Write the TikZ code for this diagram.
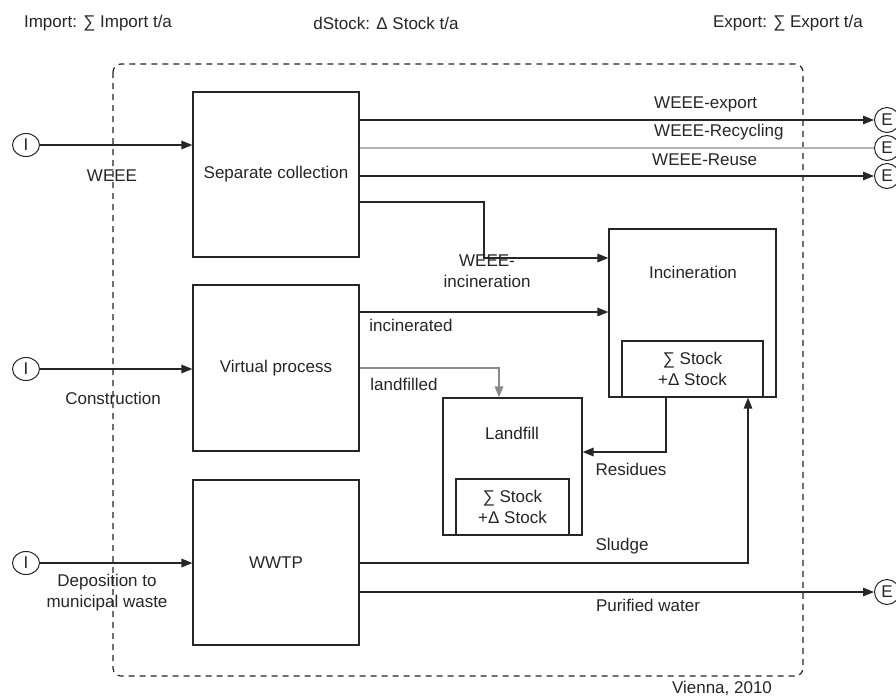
\documentclass[tikz,border=0pt]{standalone}
\usepackage{fontspec}
\setmainfont{Liberation Sans}
\usetikzlibrary{arrows.meta,shapes.geometric}
\definecolor{ink}{HTML}{262626}
\definecolor{lightflow}{HTML}{B4B4B4}
\definecolor{midflow}{HTML}{8A8A8A}
\begin{document}
\begin{tikzpicture}[x=1pt,y=-1pt,
  every node/.style={font=\fontsize{17}{21}\selectfont, text=ink},
  process/.style={draw=ink, line width=1.2pt, rectangle, inner sep=0pt},
  stockbox/.style={draw=ink, line width=1.2pt, rectangle, inner sep=0pt,
    minimum height=56, align=center},
  source/.style={draw=ink, line width=1pt, ellipse, inner sep=0pt,
    minimum width=27, minimum height=23},
  sink/.style={draw=ink, line width=1pt, ellipse, inner sep=0pt,
    minimum width=25, minimum height=25},
  flow/.style={draw=ink, line width=1.5pt, -{Triangle[length=11pt,width=8.5pt]}},
  flowlabel/.style={inner sep=0pt, anchor=center},
  boundary/.style={draw=ink, line width=1.2pt, dash pattern=on 6pt off 5pt,
    rounded corners=8pt}]
\useasboundingbox (0,0) rectangle (896,697);
\fill[white] (0,0) rectangle (896,697);

% header
\node[flowlabel] (hImport) at (98,23) {Import: ∑ Import t/a};
\node[flowlabel] (hStock) at (386,23) {dStock: Δ Stock t/a};
\node[flowlabel] (hExport) at (788,23) {Export: ∑ Export t/a};

% system boundary
\draw[boundary] (113,64) rectangle (803,676);
\node[flowlabel] (place) at (722,688) {Vienna, 2010};

% processes
\node[process, minimum width=166, minimum height=165] (sep) at (276,174.5) {Separate collection};
\node[process, minimum width=166, minimum height=166] (vp) at (276,368) {Virtual process};
\node[process, minimum width=166, minimum height=165] (wwtp) at (276,562.5) {WWTP};
\node[process, minimum width=167, minimum height=168] (inc) at (692.5,313) {};
\node[flowlabel] (incname) at (693,272) {Incineration};
\node[stockbox, minimum width=141] (incstock) at (692.5,369) {∑ Stock\\+Δ Stock};
\node[process, minimum width=139, minimum height=137] (lf) at (512.5,466.5) {};
\node[flowlabel] (lfname) at (512,433) {Landfill};
\node[stockbox, minimum width=113] (lfstock) at (512.5,507) {∑ Stock\\+Δ Stock};

% imports
\node[source] (i1) at (26,145) {I};
\node[source] (i2) at (26,369) {I};
\node[source] (i3) at (26,563) {I};
\draw[flow] (i1.east) -- (i1.east -| sep.west);
\draw[flow] (i2.east) -- (i2.east -| vp.west);
\draw[flow] (i3.east) -- (i3.east -| wwtp.west);
\node[flowlabel] (lWEEE) at (112,176) {WEEE};
\node[flowlabel] (lCons) at (113,398) {Construction};
\node[flowlabel, align=center] (lDep) at (107,592.5) {Deposition to\\municipal waste};

% exports
\node[sink] (e1) at (887,120) {E};
\node[sink] (e2) at (887,148) {E};
\node[sink] (e3) at (887,176) {E};
\node[sink] (e4) at (887,592) {E};
\draw[flow] (sep.east |- e1.west) -- (e1.west);
\draw[draw=lightflow, line width=1.5pt] (sep.east |- e2.west) -- (e2.west);
\draw[flow] (sep.east |- e3.west) -- (e3.west);
\node[flowlabel, anchor=west] (lExp) at (654,104) {WEEE-export};
\node[flowlabel, anchor=west] (lRec) at (654,132) {WEEE-Recycling};
\node[flowlabel, anchor=west] (lReu) at (652,160) {WEEE-Reuse};

% internal flows
\coordinate (wiBend) at (484,258);
\draw[flow] (sep.east |- 0,202) -| (wiBend) -- (wiBend -| inc.west);
\node[flowlabel, align=center] (lWI) at (487,271) {WEEE-\\incineration};

\draw[flow] (vp.east |- 0,312) -- (inc.west |- 0,312);
\node[flowlabel] (lInc) at (411,325) {incinerated};

\coordinate (lfIn) at (499,0);
\draw[draw=midflow, line width=1.5pt, -{Triangle[length=11pt,width=8.5pt]}]
  (vp.east |- 0,368) -| (lf.north -| lfIn);
\node[flowlabel] (lLand) at (404,384) {landfilled};

\coordinate (resDown) at (666,452);
\draw[flow] (inc.south -| resDown) -- (resDown) -- (resDown -| lf.east);
\node[flowlabel] (lRes) at (631,469) {Residues};

\coordinate (sludgeUp) at (748,0);
\draw[flow] (wwtp.east |- 0,563) -| (inc.south -| sludgeUp);
\node[flowlabel] (lSlu) at (622,546) {Sludge};

\draw[flow] (wwtp.east |- e4.west) -- (e4.west);
\node[flowlabel] (lPur) at (648,605) {Purified water};
\end{tikzpicture}
\end{document}
